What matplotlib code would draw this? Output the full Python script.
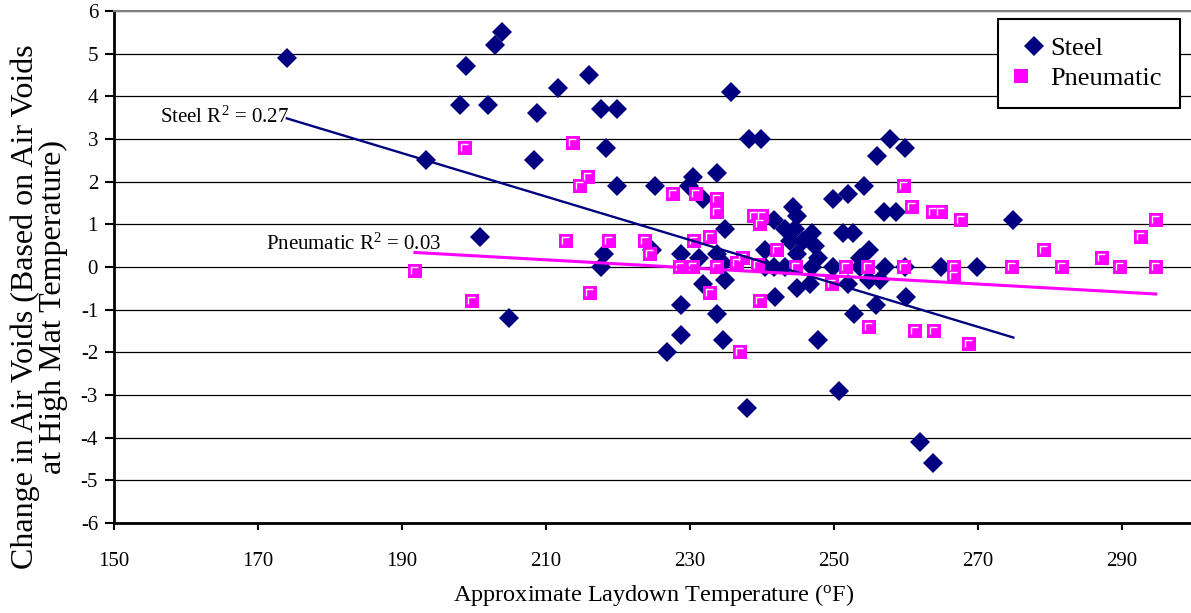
import numpy as np
import matplotlib
matplotlib.use('Agg')
import matplotlib.pyplot as plt
from matplotlib.lines import Line2D
from matplotlib.path import Path
from matplotlib.legend_handler import HandlerTuple

plt.rcParams['font.family'] = ['Liberation Serif', 'DejaVu Serif']
plt.rcParams['mathtext.fontset'] = 'custom'
plt.rcParams['mathtext.rm'] = 'Liberation Serif'
plt.rcParams['mathtext.it'] = 'Liberation Serif:italic'
plt.rcParams['mathtext.bf'] = 'Liberation Serif:bold'
plt.rcParams['axes.unicode_minus'] = False

# data (laydown temp F, change in air voids)
steel_x = [174.0, 193.3, 198.0, 198.9, 200.8, 201.9, 202.9, 203.9, 204.9, 208.3,
           208.8, 211.7, 216.0, 217.6, 217.7, 218.0, 218.4, 219.8, 219.9, 225.1,
           224.7, 226.8, 228.8, 228.8, 228.8, 229.9, 230.4, 231.3, 231.8, 231.8,
           233.8, 233.8, 233.8, 234.6, 234.6, 234.9, 234.9, 235.7, 237.9, 238.2,
           239.9, 240.4, 240.4, 241.6, 241.6, 241.8, 243.2, 243.2, 243.9, 244.3,
           244.6, 244.8, 244.8, 244.8, 245.7, 246.6, 246.9, 246.9, 247.4, 247.8,
           247.8, 249.9, 249.9, 250.7, 251.3, 251.9, 252.0, 252.7, 252.8, 253.6,
           253.6, 254.2, 254.8, 254.8, 255.8, 256.0, 256.4, 256.9, 257.1, 257.8,
           258.6, 259.9, 259.9, 260.0, 262.0, 263.8, 264.9, 269.8, 274.9]
steel_y = [4.9, 2.5, 3.8, 4.7, 0.7, 3.8, 5.2, 5.5, -1.2, 2.5,
           3.6, 4.2, 4.5, 0.0, 3.7, 0.3, 2.8, 3.7, 1.9, 1.9,
           0.4, -2.0, 0.3, -0.9, -1.6, 1.9, 2.1, 0.2, 1.6, -0.4,
           2.2, 0.3, -1.1, 0.1, -1.7, 0.9, -0.3, 4.1, -3.3, 3.0,
           3.0, 0.4, 0.0, 0.0, 1.1, -0.7, 0.9, 0.0, 0.6, 1.4,
           0.9, 1.2, 0.3, -0.5, 0.6, -0.4, 0.8, 0.0, 0.5, 0.2,
           -1.7, 1.6, 0.0, -2.9, 0.8, 1.7, -0.4, 0.8, -1.1, 0.2,
           0.0, 1.9, 0.4, -0.3, -0.9, 2.6, -0.3, 1.3, 0.0, 3.0,
           1.3, 2.8, 0.0, -0.7, -4.1, -4.6, 0.0, 0.0, 1.1]

pneu_x = [191.8, 198.8, 199.7, 212.8, 213.7, 214.7, 215.8, 216.1, 218.7, 223.8,
          224.4, 227.7, 228.6, 230.4, 230.6, 230.8, 232.8, 232.8, 233.7, 233.7,
          233.7, 236.5, 236.9, 237.4, 238.9, 239.7, 240.0, 239.5, 239.7, 242.1,
          244.7, 249.7, 251.7, 254.7, 254.8, 259.7, 259.7, 260.8, 261.3, 263.8,
          263.9, 264.9, 266.7, 266.7, 267.7, 268.8, 274.7, 279.1, 281.6, 287.2,
          289.7, 292.7, 294.7, 294.7]
pneu_y = [-0.1, 2.8, -0.8, 0.6, 2.9, 1.9, 2.1, -0.6, 0.6, 0.6,
          0.3, 1.7, 0.0, 0.0, 0.6, 1.7, 0.7, -0.6, 1.6, 1.3,
          0.0, 0.1, -2.0, 0.2, 1.2, 1.0, 1.2, 0.05, -0.8, 0.4,
          0.0, -0.4, 0.0, 0.0, -1.4, 1.9, 0.0, 1.4, -1.5, 1.3,
          -1.5, 1.3, 0.0, -0.2, 1.1, -1.8, 0.0, 0.4, 0.0, 0.2,
          0.0, 0.7, 1.1, 0.0]

# linear trend lines as drawn on the chart (slope, intercept)
steel_fit = (-0.0509, 12.34)
pneu_fit = (-0.00946, 2.155)

xticks = [150, 170, 190, 210, 230, 250, 270, 290]
yticks = [-6, -5, -4, -3, -2, -1, 0, 1, 2, 3, 4, 5, 6]

navy = '#000080'
pink = '#FF00FF'

fig = plt.figure(figsize=(11.91, 6.13), dpi=100)
ax = fig.add_axes([114 / 1191, 1 - 523 / 613, 1080 / 1191, 512 / 613])

ax.set_xlim(150, 300)
ax.set_ylim(-6, 6)
ax.set_xticks(xticks)
ax.set_yticks(yticks)
ax.grid(axis='y', color='black', lw=0.9, zorder=0)
ax.set_axisbelow(True)

ax.spines['right'].set_visible(False)
ax.spines['top'].set_color('#808080')
ax.spines['top'].set_linewidth(1.5)
ax.spines['left'].set_linewidth(2)
ax.spines['bottom'].set_linewidth(2)
ax.tick_params(axis='x', direction='out', length=5, width=1.5, pad=16, labelsize=15)
ax.tick_params(axis='y', direction='out', length=6.5, width=1.5, pad=5, labelsize=15)

ms_d = 10
ms_sq = 9.5
gamma = np.array([(-0.3, -0.2), (-0.3, 0.33), (0.25, 0.33)])
gamma_path = Path(gamma, [Path.MOVETO, Path.LINETO, Path.LINETO])
ms_gamma = ms_sq * np.abs(gamma).max() / 0.5

ax.plot(steel_x, steel_y, ls='none', marker='D', ms=ms_d, color=navy, mew=0, zorder=3)
ax.plot(pneu_x, pneu_y, ls='none', marker='s', ms=ms_sq, color=pink, mew=0, zorder=4)
ax.plot(pneu_x, pneu_y, ls='none', marker=gamma_path, ms=ms_gamma, mfc='none',
        mec='white', mew=1.0, zorder=4)

sx = np.array([min(steel_x), max(steel_x)])
ax.plot(sx, steel_fit[0] * sx + steel_fit[1], color=navy, lw=1.7, zorder=5)
px = np.array([min(pneu_x), max(pneu_x)])
ax.plot(px, pneu_fit[0] * px + pneu_fit[1], color=pink, lw=2.2, zorder=5)

ax.text(156.4, 3.375, 'Steel R$^{2}$ = 0.27', fontsize=15, va='baseline', zorder=6)
ax.text(171.1, 0.40, 'Pneumatic R$^{2}$ = 0.03', fontsize=15, va='baseline', zorder=6)

ax.set_xlabel('Approximate Laydown Temperature ($^{\\mathrm{o}}$F)', fontsize=17.5, va='center')
ax.xaxis.set_label_coords(0.5, -0.14)
fig.text(39 / 1191, 0.5, 'Change in Air Voids (Based on Air Voids\nat High Mat Temperature)',
         rotation=90, ha='center', va='center', multialignment='center',
         fontsize=23, linespacing=0.95)

h_steel = Line2D([], [], ls='none', marker='D', ms=ms_d, color=navy, mew=0)
h_sq = Line2D([], [], ls='none', marker='s', ms=ms_sq, color=pink, mew=0)
h_gm = Line2D([], [], ls='none', marker=gamma_path, ms=ms_gamma, mfc='none', mec='white', mew=1.0)
leg = ax.legend([h_steel, (h_sq, h_gm)], ['Steel', 'Pneumatic'],
                handler_map={tuple: HandlerTuple(ndivide=None)},
                loc='upper right', bbox_to_anchor=(1180 / 1191, 1 - 18.7 / 613),
                bbox_transform=fig.transFigure, borderaxespad=0, fontsize=19,
                frameon=True, fancybox=False, shadow=False, framealpha=1,
                edgecolor='black', borderpad=0.68, handlelength=1.35,
                handletextpad=-0.05, labelspacing=0.25)
leg.get_frame().set_linewidth(1.5)
leg.set_zorder(10)

fig.savefig('out.png', dpi=100)
